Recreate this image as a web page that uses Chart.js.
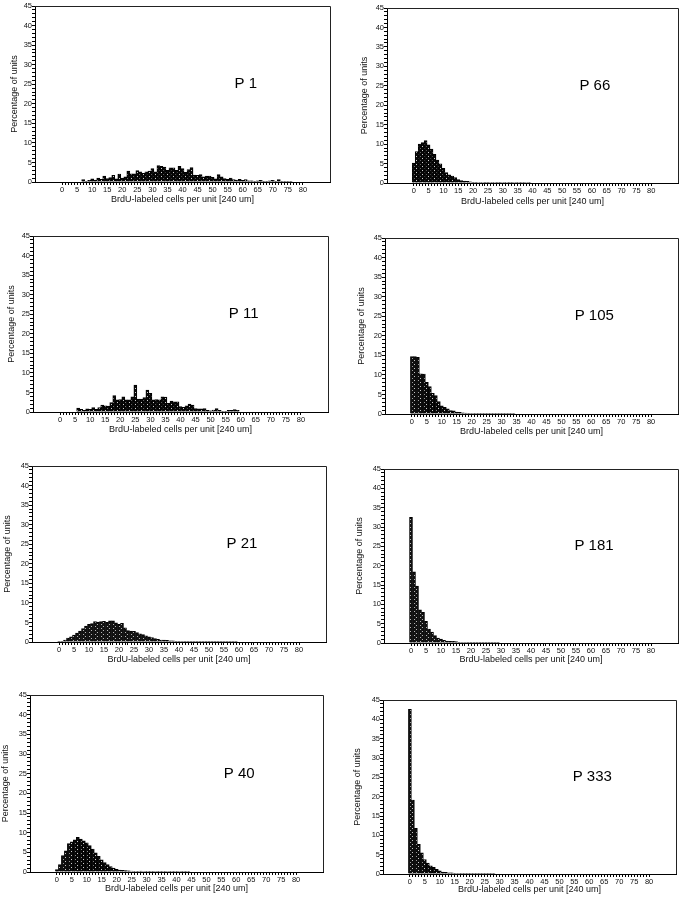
<!DOCTYPE html>
<html>
<head>
<meta charset="utf-8">
<script src="https://cdn.jsdelivr.net/npm/chart.js@4.4.1/dist/chart.umd.min.js"></script>
<style>
  html, body { margin: 0; padding: 0; background: #fff; }
  body { width: 690px; height: 900px; position: relative; overflow: hidden; }
  canvas { position: absolute; }
</style>
</head>
<body>
<script>
// Percentage of units per bin; bin index = BrdU-labeled cells per unit (0, 1, 2, ...)
const p1 = [0, 0, 0, 0, 0, 0, 0, 0.6, 0.2, 0.4, 0.8, 0.5, 1.0, 0.7, 1.5, 0.9, 1.1, 1.7, 0.8, 2.0, 1.0, 1.3, 2.8, 2.1, 2.1, 2.9, 2.6, 2.2, 2.6, 2.8, 3.4, 2.6, 4.2, 4.0, 3.8, 3.0, 3.6, 3.6, 3.0, 4.0, 3.4, 2.5, 3.2, 3.7, 1.8, 1.7, 1.9, 1.3, 1.5, 1.5, 1.2, 0.8, 1.9, 1.3, 0.9, 0.7, 1.0, 0.6, 0.5, 0.7, 0.4, 0.6, 0.3, 0.3, 0.2, 0.3, 0.4, 0.2, 0.2, 0.3, 0.4, 0.2, 0.6, 0.1, 0.2, 0.2, 0.1];
const p11 = [0, 0, 0, 0, 0, 0, 1.0, 0.7, 0.4, 0.8, 0.7, 1.1, 0.7, 1.1, 1.8, 1.6, 1.5, 2.4, 4.2, 3.1, 3.2, 3.9, 3.1, 3.1, 3.9, 6.9, 3.3, 3.3, 3.7, 5.6, 4.8, 3.1, 3.2, 3.1, 3.9, 3.8, 2.2, 2.8, 2.6, 2.6, 1.4, 1.2, 1.6, 2.0, 1.8, 0.9, 0.8, 0.8, 0.9, 0.4, 0.3, 0.5, 0.9, 0.4, 0.1, 0.1, 0.4, 0.4, 0.6, 0.4];
const p21 = [0.1, 0.2, 0.5, 1.0, 1.3, 1.8, 2.3, 2.8, 3.4, 4.1, 4.5, 4.7, 5.2, 5.1, 5.2, 5.3, 5.0, 5.4, 5.4, 4.9, 4.5, 4.8, 3.6, 2.9, 2.8, 2.7, 2.4, 2.1, 1.9, 1.6, 1.3, 1.1, 0.9, 0.7, 0.5, 0.5, 0.4, 0.3, 0.3, 0.2, 0.2, 0.15, 0.1, 0.1, 0.1, 0.1, 0.05, 0.05, 0.05, 0.05, 0.05, 0.03, 0.03, 0.03, 0.03, 0.02, 0.02, 0.02, 0.02, 0.02];
const p40 = [0.6, 1.9, 4.2, 5.4, 7.2, 7.7, 8.2, 8.8, 8.4, 7.9, 7.4, 6.7, 5.8, 4.9, 4.0, 3.1, 2.4, 1.9, 1.4, 1.0, 0.7, 0.5, 0.4, 0.35, 0.3, 0.25, 0.2, 0.2, 0.25, 0.15, 0.1, 0.1, 0.08, 0.08, 0.06, 0.05, 0.05, 0.04, 0.03, 0.03, 0.02, 0.02, 0.02, 0.02, 0.02];
const p66 = [5.1, 8.1, 10.0, 10.4, 10.9, 9.8, 8.7, 7.4, 5.9, 4.9, 3.8, 2.7, 2.1, 1.8, 1.4, 0.9, 0.6, 0.5, 0.4, 0.3, 0.2, 0.2, 0.15, 0.1, 0.1, 0.1, 0.05, 0.05, 0.05, 0.04, 0.03, 0.03, 0.03, 0.02, 0.02, 0.02, 0.02, 0.02, 0.02, 0.02];
const p105 = [14.7, 14.7, 14.5, 10.3, 10.2, 8.1, 7.0, 5.3, 4.7, 3.2, 2.1, 1.7, 1.3, 0.9, 0.8, 0.5, 0.4, 0.3, 0.25, 0.2, 0.15, 0.1, 0.1, 0.08, 0.06, 0.05, 0.05, 0.04, 0.04, 0.03, 0.03, 0.03, 0.02, 0.02, 0.02];
const p181 = [32.5, 18.4, 14.7, 8.6, 7.9, 5.6, 3.6, 2.8, 1.9, 1.3, 1.0, 0.7, 0.5, 0.4, 0.4, 0.35, 0.2, 0.15, 0.15, 0.1, 0.1, 0.08, 0.06, 0.05, 0.05, 0.04, 0.03, 0.03, 0.02, 0.02];
const p333 = [42.6, 19.1, 11.8, 7.7, 5.5, 3.7, 2.8, 2.1, 1.7, 1.2, 0.8, 0.5, 0.4, 0.3, 0.3, 0.2, 0.15, 0.1, 0.1, 0.08, 0.06, 0.05, 0.05, 0.1, 0.04, 0.03, 0.03, 0.02, 0.02];

const xTickLabels = [0, 5, 10, 15, 20, 25, 30, 35, 40, 45, 50, 55, 60, 65, 70, 75, 80];
const yTickLabels = [0, 5, 10, 15, 20, 25, 30, 35, 40, 45];
const xTitle = 'BrdU-labeled cells per unit [240 um]';
const yTitle = 'Percentage of units';

// where each plot box sits on the page
const panels = [
  { name: 'P 1',   values: p1,   x0: 0,   l: 35,  t: 6,   r: 330, b: 182, yT: 15,  xT: 18 },
  { name: 'P 66',  values: p66,  x0: 345, l: 387, t: 8,   r: 678, b: 183, yT: 365, xT: 19 },
  { name: 'P 11',  values: p11,  x0: 0,   l: 33,  t: 236, r: 328, b: 412, yT: 12,  xT: 18 },
  { name: 'P 105', values: p105, x0: 345, l: 385, t: 238, r: 678, b: 414, yT: 362, xT: 18 },
  { name: 'P 21',  values: p21,  x0: 0,   l: 32,  t: 466, r: 326, b: 642, yT: 8,   xT: 18 },
  { name: 'P 181', values: p181, x0: 345, l: 384, t: 469, r: 678, b: 643, yT: 360, xT: 17 },
  { name: 'P 40',  values: p40,  x0: 0,   l: 30,  t: 695, r: 323, b: 872, yT: 6,   xT: 17 },
  { name: 'P 333', values: p333, x0: 345, l: 383, t: 700, r: 676, b: 874, yT: 358, xT: 16 }
];

const FONT = '"Liberation Sans", Arial, Helvetica, sans-serif';
const INK = '#111';
const TITLE_SIZE = 9;
const xMax = xTickLabels[xTickLabels.length - 1];
const yMax = yTickLabels[yTickLabels.length - 1];

function stipple(ctx) {
  const c = document.createElement('canvas');
  c.width = 4; c.height = 4;
  const g = c.getContext('2d');
  g.fillStyle = '#0c0c0c';
  g.fillRect(0, 0, 4, 4);
  g.fillStyle = '#d0d0d0';
  g.fillRect(1, 0, 1, 1);
  g.fillRect(3, 2, 1, 1);
  return ctx.createPattern(c, 'repeat');
}

// top/right edges of the box plus the panel name
const framePlugin = {
  id: 'frame',
  afterDraw(chart, args, opts) {
    const { ctx, chartArea: a, scales } = chart;
    ctx.save();
    ctx.strokeStyle = '#222';
    ctx.lineWidth = 1;
    ctx.beginPath();
    ctx.moveTo(Math.round(a.left), Math.round(a.top) + 0.5);
    ctx.lineTo(Math.round(a.right) + 0.5, Math.round(a.top) + 0.5);
    ctx.lineTo(Math.round(a.right) + 0.5, Math.round(a.bottom));
    ctx.stroke();
    ctx.fillStyle = '#000';
    ctx.font = '15px ' + FONT;
    ctx.textAlign = 'center';
    ctx.textBaseline = 'middle';
    ctx.fillText(opts.name, scales.x.getPixelForValue(61), scales.y.getPixelForValue(25));
    ctx.restore();
  }
};

panels.forEach(p => {
  const cv = document.createElement('canvas');
  const top = p.t - 6;
  const w = p.r + 3 - p.x0;
  const h = p.b + 26 - top;
  cv.width = w; cv.height = h;
  cv.style.left = p.x0 + 'px';
  cv.style.top = top + 'px';
  document.body.appendChild(cv);
  const ctx = cv.getContext('2d');
  const half = TITLE_SIZE * 1.2 / 2;

  new Chart(cv, {
    type: 'bar',
    data: {
      datasets: [{
        data: p.values.map((v, i) => ({ x: i, y: v })),
        backgroundColor: stipple(ctx),
        borderColor: '#000',
        borderWidth: 1,
        borderSkipped: 'bottom',
        barPercentage: 1,
        categoryPercentage: 1
      }]
    },
    options: {
      responsive: false,
      animation: false,
      devicePixelRatio: 1,
      layout: { padding: { top: 6, right: 3, left: 0, bottom: 0 } },
      plugins: { legend: { display: false }, tooltip: { enabled: false }, frame: { name: p.name } },
      scales: {
        x: {
          type: 'linear',
          min: -9, max: 89,
          offset: false,
          afterBuildTicks: s => {
            const t = [];
            for (let v = 0; v <= xMax; v++) t.push({ value: v });
            s.ticks = t;
          },
          afterFit: s => { s.height = 26; },
          ticks: {
            autoSkip: false, maxRotation: 0, minRotation: 0, padding: 0,
            color: INK, font: { family: FONT, size: 7.5 },
            callback: v => xTickLabels.includes(v) ? String(v) : ''
          },
          grid: { drawOnChartArea: false, drawTicks: true, tickLength: 3, tickColor: '#000', offset: false },
          border: { color: '#000', width: 1 },
          title: {
            display: true, text: xTitle, color: INK,
            font: { family: FONT, size: TITLE_SIZE },
            padding: { top: 0, bottom: 26 - p.xT - half }
          }
        },
        y: {
          min: 0, max: yMax,
          afterBuildTicks: s => {
            const t = [];
            for (let v = 0; v <= yMax; v++) t.push({ value: v });
            s.ticks = t;
          },
          afterFit: s => { s.width = p.l - p.x0; },
          ticks: {
            autoSkip: false, padding: 0,
            color: INK, font: { family: FONT, size: 7.5 },
            callback: v => yTickLabels.includes(v) ? String(v) : ''
          },
          grid: { drawOnChartArea: false, drawTicks: true, tickLength: 3, tickColor: '#000' },
          border: { color: '#000', width: 1 },
          title: {
            display: true, text: yTitle, color: INK,
            font: { family: FONT, size: TITLE_SIZE },
            padding: { top: Math.max(0, p.yT - p.x0 - half), bottom: 0 }
          }
        }
      }
    },
    plugins: [framePlugin]
  });
});
</script>
</body>
</html>
